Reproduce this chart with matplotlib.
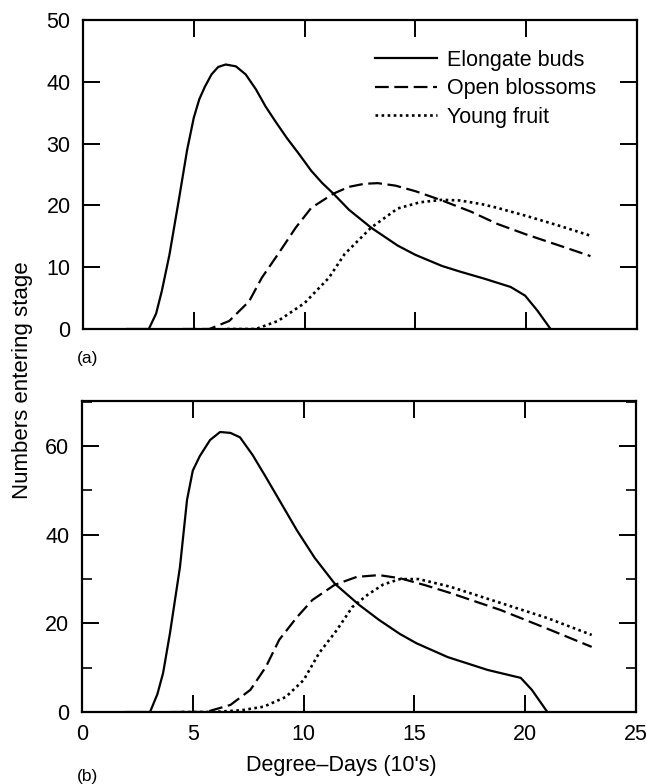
import matplotlib
matplotlib.use("Agg")
import matplotlib.pyplot as plt
from matplotlib.ticker import MultipleLocator

plt.rcParams['font.family'] = ['Liberation Sans', 'DejaVu Sans']

# panel (a)
buds_a_x = [2.0, 2.97, 3.3, 3.56, 3.9, 4.32, 4.7, 5.0, 5.25, 5.5, 5.8, 6.1, 6.44, 6.9, 7.34,
            7.8, 8.24, 8.7, 9.2, 9.73, 10.3, 10.8, 11.3, 12.0, 13.0, 14.2, 15.0, 16.2, 17.0,
            18.15, 19.3, 19.95, 20.5, 21.1]
buds_a_y = [0, 0, 2.5, 6.2, 12.0, 20.8, 29.0, 34.2, 37.2, 39.2, 41.2, 42.4, 42.8, 42.5, 41.2,
            38.8, 36.0, 33.5, 30.9, 28.4, 25.6, 23.6, 21.9, 19.3, 16.4, 13.5, 12.0, 10.2, 9.3,
            8.1, 6.8, 5.4, 3.0, 0]

blos_a_x = [4.5, 5.7, 6.6, 7.5, 8.07, 8.8, 9.6, 10.3, 11.3, 12.0, 12.7, 13.3, 14.1, 15.0,
            16.2, 17.5, 18.7, 20.0, 21.5, 22.9]
blos_a_y = [0, 0, 1.3, 4.5, 8.3, 12.1, 16.4, 19.6, 21.9, 23.0, 23.5, 23.6, 23.2, 22.3,
            20.8, 19.0, 17.0, 15.3, 13.5, 11.8]

fruit_a_x = [6.5, 7.8, 8.8, 10.0, 11.1, 11.8, 13.0, 14.2, 15.2, 16.2, 17.0, 18.0, 18.7,
             20.0, 21.5, 22.9]
fruit_a_y = [0, 0, 1.3, 4.2, 8.3, 12.1, 16.4, 19.5, 20.5, 20.9, 20.8, 20.2, 19.6,
             18.3, 16.7, 15.1]

# panel (b)
buds_b_x = [2.0, 3.07, 3.4, 3.66, 3.97, 4.42, 4.74, 5.0, 5.32, 5.78, 6.23, 6.7, 7.13, 7.7,
            8.3, 9.0, 9.7, 10.5, 11.4, 12.5, 13.4, 14.35, 15.1, 16.5, 18.3, 19.8, 20.3, 21.0]
buds_b_y = [0, 0, 4, 8.8, 17.8, 32.7, 47.9, 54.5, 57.8, 61.4, 63.2, 63.0, 62.0, 58.0,
            53.0, 47.0, 41.0, 34.8, 29.0, 24.2, 20.8, 17.6, 15.5, 12.4, 9.5, 7.7, 5.0, 0]

blos_b_x = [4.0, 5.6, 6.7, 7.6, 8.3, 8.9, 9.7, 10.4, 11.4, 12.4, 13.4, 14.35, 15.5, 16.6,
            18.9, 21.0, 23.0]
blos_b_y = [0, 0, 1.6, 5.0, 10.2, 16.3, 21.4, 25.3, 28.7, 30.5, 30.9, 30.2, 28.6, 26.9,
            23.0, 18.8, 14.7]

fruit_b_x = [4.5, 5.9, 7.2, 8.2, 9.2, 10.0, 10.7, 11.5, 12.2, 12.9, 13.6, 14.35, 15.2,
             16.6, 18.9, 21.0, 23.0]
fruit_b_y = [0, 0, 0.4, 1.2, 3.4, 7.2, 13.3, 18.5, 23.7, 26.5, 28.8, 30.0, 30.0,
             28.3, 24.6, 21.2, 17.4]

labels = ["Elongate buds", "Open blossoms", "Young fruit"]
x_ticks = [0, 5, 10, 15, 20, 25]

W, H = 647, 784
fig = plt.figure(figsize=(W / 100, H / 100), dpi=100)
ax1 = fig.add_axes([83 / W, 1 - 329 / H, 554 / W, 309 / H])
ax2 = fig.add_axes([82 / W, 1 - 712 / H, 554 / W, 311 / H])

styles = [
    dict(color='black', lw=1.6, linestyle='-'),
    dict(color='black', lw=1.6, linestyle=(0, (6.2, 2.5))),
    dict(color='black', lw=1.9, linestyle=(0, (1, 1.3))),
]

for ax, series in [(ax1, [(buds_a_x, buds_a_y), (blos_a_x, blos_a_y), (fruit_a_x, fruit_a_y)]),
                   (ax2, [(buds_b_x, buds_b_y), (blos_b_x, blos_b_y), (fruit_b_x, fruit_b_y)])]:
    for (xs, ys), st, lab in zip(series, styles, labels):
        ax.plot(xs, ys, label=lab, **st)
    ax.set_xlim(0, 25)
    ax.set_xticks(x_ticks)
    for s in ax.spines.values():
        s.set_linewidth(1.6)
    ax.tick_params(which='major', direction='in', length=12, width=1.4,
                   top=True, right=True, labelsize=15.5)
    ax.tick_params(axis='y', which='major', pad=9)
    ax.tick_params(which='minor', direction='in', length=7, width=1.2,
                   top=False, right=True)

ax1.set_ylim(0, 50)
ax1.yaxis.set_major_locator(MultipleLocator(10))
ax1.tick_params(axis='x', labelbottom=False)

ax2.set_ylim(0, 70.2)
ax2.set_yticks([0, 20, 40, 60])
ax2.yaxis.set_minor_locator(MultipleLocator(10))
ax2.tick_params(axis='x', pad=9)

leg = ax1.legend(loc='upper left', bbox_to_anchor=(375 / W, 1 - 50 / H),
                 bbox_transform=fig.transFigure, frameon=False, fontsize=15.5,
                 handlelength=2.9, handletextpad=0.45, labelspacing=0.34,
                 borderpad=0, borderaxespad=0)

fig.text(341 / W, 1 - 765 / H, "Degree\u2013Days (10's)", ha='center', va='center',
         fontsize=15.5)
fig.text(23 / W, 1 - 380 / H, "Numbers entering stage", ha='center', va='center',
         rotation=90, fontsize=16)
fig.text(77 / W, 1 - 358 / H, "(a)", ha='left', va='center', fontsize=12.5)
fig.text(77 / W, 1 - 776 / H, "(b)", ha='left', va='center', fontsize=12.5)

fig.savefig("out.png", dpi=100)
